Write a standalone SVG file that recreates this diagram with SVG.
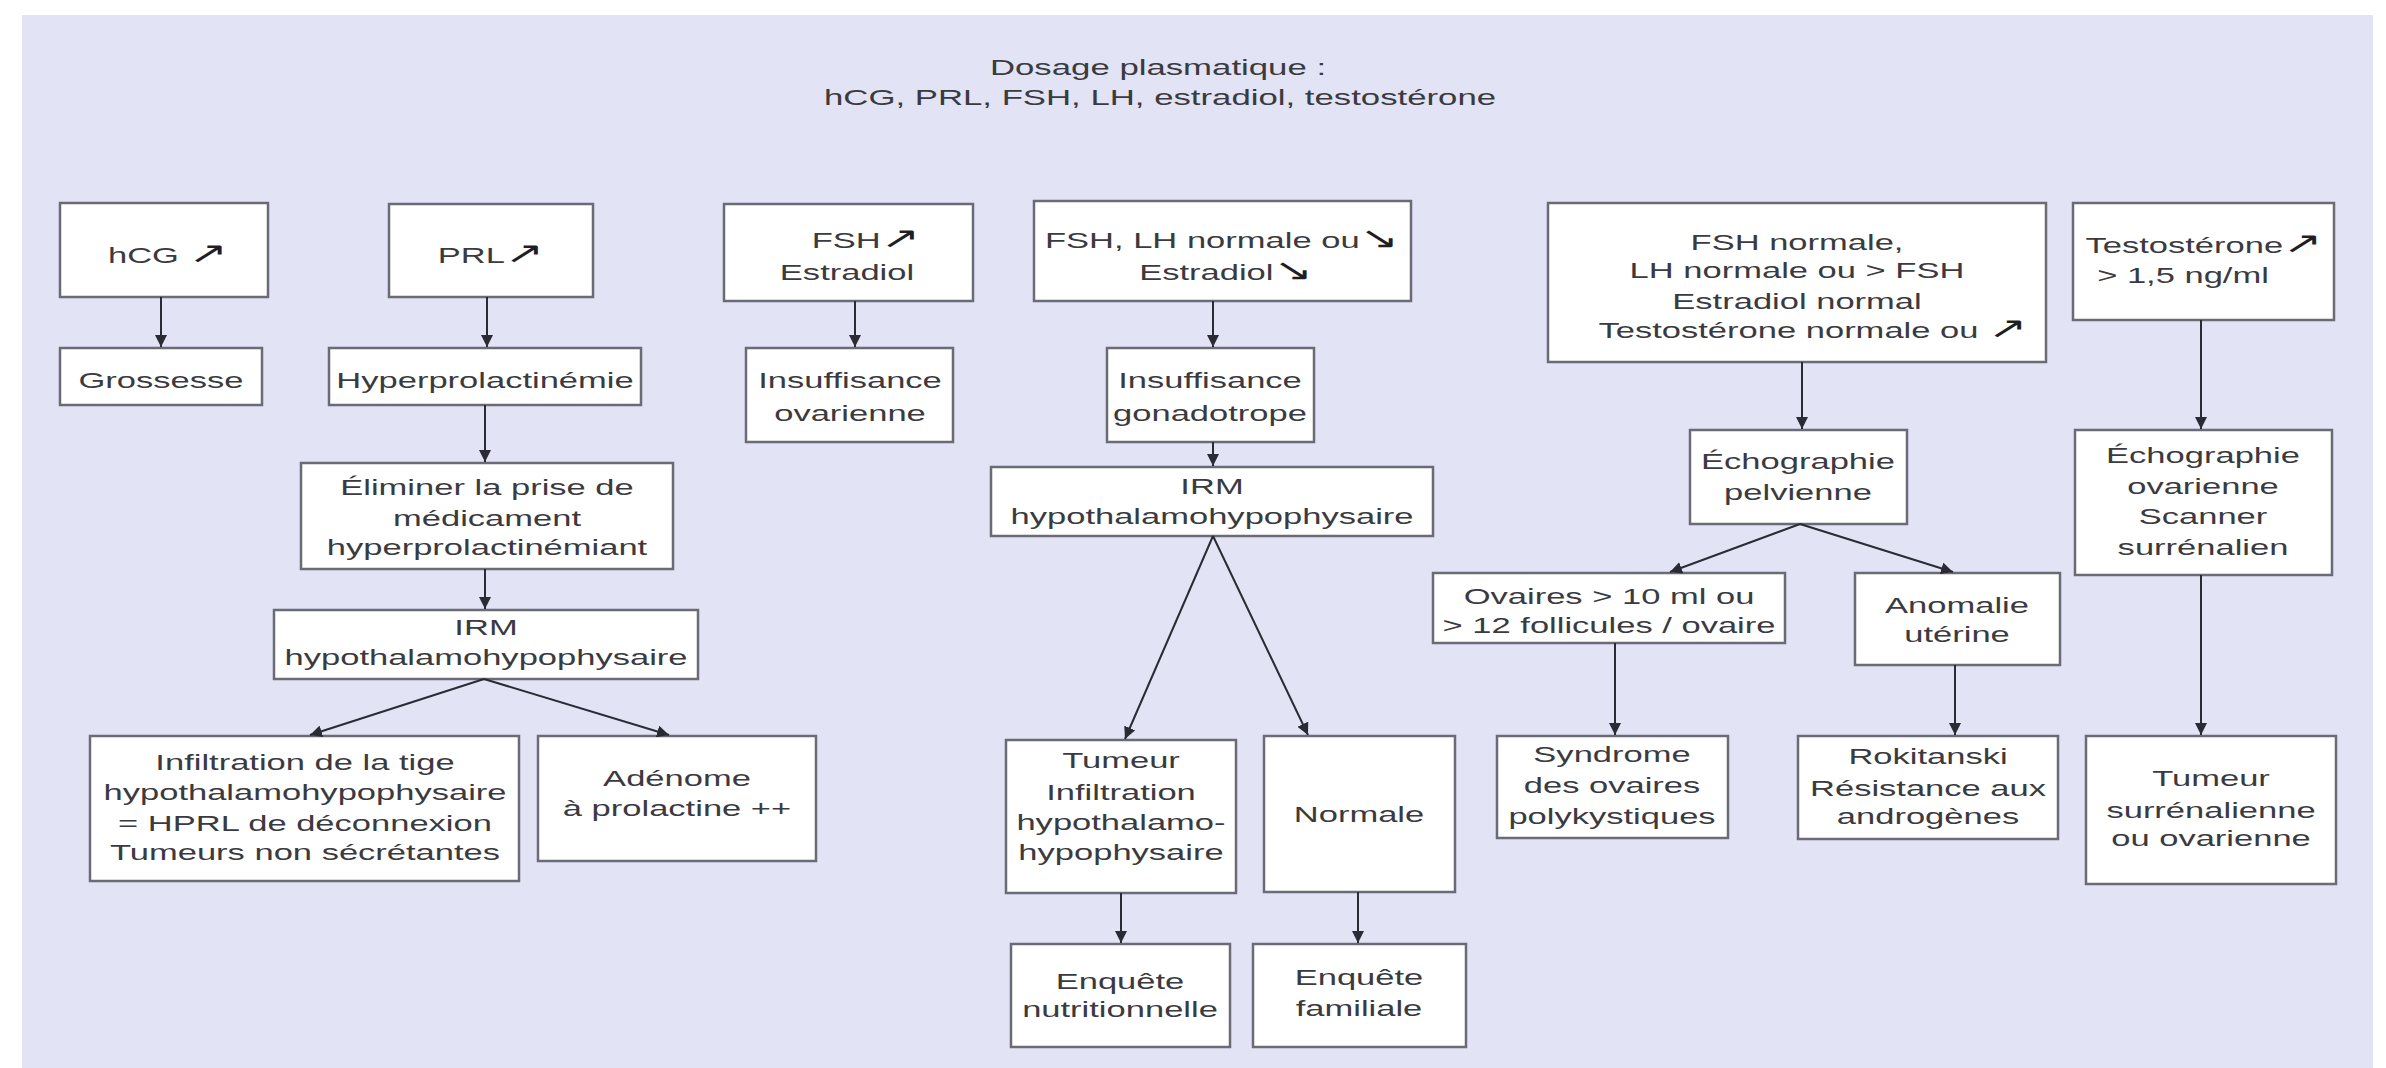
<svg xmlns="http://www.w3.org/2000/svg" width="2386" height="1068" viewBox="0 0 2386 1068">
<style>
  .panel { fill: #e2e3f4; }
  .box { fill: #ffffff; stroke: #6a6b74; stroke-width: 2.5; }
  .t { font-family: "Liberation Sans", Arial, sans-serif; font-size: 22px; fill: #3a3a3f; text-anchor: middle; }
  .ar { font-family: "DejaVu Sans", sans-serif; font-size: 30px; fill: #1e1e24; }
  .conn line { stroke: #2b2b35; stroke-width: 2; fill: none; marker-end: url(#head); }
</style>
<defs>
  <marker id="head" markerUnits="userSpaceOnUse" markerWidth="14" markerHeight="12" refX="12" refY="6" orient="auto">
    <path d="M0,0 L12,6 L0,12 z" fill="#2b2b35"/>
  </marker>
</defs>
<rect x="0" y="0" width="2386" height="1068" fill="#ffffff"/>
<rect class="panel" x="22" y="15" width="2351" height="1053"/>

<g id="title">
  <text class="t" transform="translate(1158,75) scale(1.58,1)">Dosage plasmatique :</text>
  <text class="t" transform="translate(1160,105) scale(1.58,1)">hCG, PRL, FSH, LH, estradiol, testostérone</text>
</g>

<g id="n-hcg">
  <rect class="box" x="60" y="203" width="208" height="94"/>
  <text class="t" transform="translate(168,263) scale(1.57,1)">hCG <tspan class="ar">↗</tspan></text>
</g>
<g id="n-grossesse">
  <rect class="box" x="60" y="348" width="202" height="57"/>
  <text class="t" transform="translate(161,388) scale(1.57,1)">Grossesse</text>
</g>
<g id="n-prl">
  <rect class="box" x="389" y="204" width="204" height="93"/>
  <text class="t" transform="translate(491,263) scale(1.57,1)">PRL<tspan class="ar">↗</tspan></text>
</g>
<g id="n-hyperprl">
  <rect class="box" x="329" y="348" width="312" height="57"/>
  <text class="t" transform="translate(485,388) scale(1.57,1)">Hyperprolactinémie</text>
</g>
<g id="n-eliminer">
  <rect class="box" x="301" y="463" width="372" height="106"/>
  <text class="t" transform="translate(487,495) scale(1.57,1)">Éliminer la prise de</text>
  <text class="t" transform="translate(487,526) scale(1.57,1)">médicament</text>
  <text class="t" transform="translate(487,555) scale(1.57,1)">hyperprolactinémiant</text>
</g>
<g id="n-irm1">
  <rect class="box" x="274" y="610" width="424" height="69"/>
  <text class="t" transform="translate(486,635) scale(1.57,1)">IRM</text>
  <text class="t" transform="translate(486,665) scale(1.57,1)">hypothalamohypophysaire</text>
</g>
<g id="n-infiltration">
  <rect class="box" x="90" y="736" width="429" height="145"/>
  <text class="t" transform="translate(305,770) scale(1.57,1)">Infiltration de la tige</text>
  <text class="t" transform="translate(305,800) scale(1.57,1)">hypothalamohypophysaire</text>
  <text class="t" transform="translate(305,831) scale(1.57,1)">= HPRL de déconnexion</text>
  <text class="t" transform="translate(305,860) scale(1.57,1)">Tumeurs non sécrétantes</text>
</g>
<g id="n-adenome">
  <rect class="box" x="538" y="736" width="278" height="125"/>
  <text class="t" transform="translate(677,786) scale(1.57,1)">Adénome</text>
  <text class="t" transform="translate(677,816) scale(1.57,1)">à prolactine ++</text>
</g>

<g id="n-fsh">
  <rect class="box" x="724" y="204" width="249" height="97"/>
  <text class="t" transform="translate(866,248) scale(1.57,1)">FSH<tspan class="ar">↗</tspan></text>
  <text class="t" transform="translate(847,280) scale(1.57,1)">Estradiol</text>
</g>
<g id="n-insuf-ov">
  <rect class="box" x="746" y="348" width="207" height="94"/>
  <text class="t" transform="translate(850,388) scale(1.57,1)">Insuffisance</text>
  <text class="t" transform="translate(850,421) scale(1.57,1)">ovarienne</text>
</g>

<g id="n-fshlh">
  <rect class="box" x="1034" y="201" width="377" height="100"/>
  <text class="t" transform="translate(1222,248) scale(1.57,1)">FSH, LH normale ou<tspan class="ar">↘</tspan></text>
  <text class="t" transform="translate(1226,280) scale(1.57,1)">Estradiol<tspan class="ar">↘</tspan></text>
</g>
<g id="n-insuf-gon">
  <rect class="box" x="1107" y="348" width="207" height="94"/>
  <text class="t" transform="translate(1210,388) scale(1.57,1)">Insuffisance</text>
  <text class="t" transform="translate(1210,421) scale(1.57,1)">gonadotrope</text>
</g>
<g id="n-irm2">
  <rect class="box" x="991" y="467" width="442" height="69"/>
  <text class="t" transform="translate(1212,494) scale(1.57,1)">IRM</text>
  <text class="t" transform="translate(1212,524) scale(1.57,1)">hypothalamohypophysaire</text>
</g>
<g id="n-tumeur">
  <rect class="box" x="1006" y="740" width="230" height="153"/>
  <text class="t" transform="translate(1121,768) scale(1.57,1)">Tumeur</text>
  <text class="t" transform="translate(1121,800) scale(1.57,1)">Infiltration</text>
  <text class="t" transform="translate(1121,830) scale(1.57,1)">hypothalamo-</text>
  <text class="t" transform="translate(1121,860) scale(1.57,1)">hypophysaire</text>
</g>
<g id="n-normale">
  <rect class="box" x="1264" y="736" width="191" height="156"/>
  <text class="t" transform="translate(1359,822) scale(1.57,1)">Normale</text>
</g>
<g id="n-enq-nut">
  <rect class="box" x="1011" y="944" width="219" height="103"/>
  <text class="t" transform="translate(1120,989) scale(1.57,1)">Enquête</text>
  <text class="t" transform="translate(1120,1017) scale(1.57,1)">nutritionnelle</text>
</g>
<g id="n-enq-fam">
  <rect class="box" x="1253" y="944" width="213" height="103"/>
  <text class="t" transform="translate(1359,985) scale(1.57,1)">Enquête</text>
  <text class="t" transform="translate(1359,1016) scale(1.57,1)">familiale</text>
</g>

<g id="n-fshnorm">
  <rect class="box" x="1548" y="203" width="498" height="159"/>
  <text class="t" transform="translate(1797,250) scale(1.57,1)">FSH normale,</text>
  <text class="t" transform="translate(1797,278) scale(1.57,1)">LH normale ou &gt; FSH</text>
  <text class="t" transform="translate(1797,309) scale(1.57,1)">Estradiol normal</text>
  <text class="t" transform="translate(1813,338) scale(1.57,1)">Testostérone normale ou <tspan class="ar">↗</tspan></text>
</g>
<g id="n-echo-pelv">
  <rect class="box" x="1690" y="430" width="217" height="94"/>
  <text class="t" transform="translate(1798,469) scale(1.57,1)">Échographie</text>
  <text class="t" transform="translate(1798,500) scale(1.57,1)">pelvienne</text>
</g>
<g id="n-ovaires">
  <rect class="box" x="1433" y="573" width="352" height="70"/>
  <text class="t" transform="translate(1609,604) scale(1.57,1)">Ovaires &gt; 10 ml ou</text>
  <text class="t" transform="translate(1609,633) scale(1.57,1)">&gt; 12 follicules / ovaire</text>
</g>
<g id="n-anomalie">
  <rect class="box" x="1855" y="573" width="205" height="92"/>
  <text class="t" transform="translate(1957,613) scale(1.57,1)">Anomalie</text>
  <text class="t" transform="translate(1957,642) scale(1.57,1)">utérine</text>
</g>
<g id="n-sopk">
  <rect class="box" x="1497" y="736" width="231" height="102"/>
  <text class="t" transform="translate(1612,762) scale(1.57,1)">Syndrome</text>
  <text class="t" transform="translate(1612,793) scale(1.57,1)">des ovaires</text>
  <text class="t" transform="translate(1612,824) scale(1.57,1)">polykystiques</text>
</g>
<g id="n-rokitanski">
  <rect class="box" x="1798" y="736" width="260" height="103"/>
  <text class="t" transform="translate(1928,764) scale(1.57,1)">Rokitanski</text>
  <text class="t" transform="translate(1928,796) scale(1.57,1)">Résistance aux</text>
  <text class="t" transform="translate(1928,824) scale(1.57,1)">androgènes</text>
</g>

<g id="n-testo">
  <rect class="box" x="2073" y="203" width="261" height="117"/>
  <text class="t" transform="translate(2204,253) scale(1.57,1)">Testostérone<tspan class="ar">↗</tspan></text>
  <text class="t" transform="translate(2183,283) scale(1.57,1)">&gt; 1,5 ng/ml</text>
</g>
<g id="n-echo-ov">
  <rect class="box" x="2075" y="430" width="257" height="145"/>
  <text class="t" transform="translate(2203,463) scale(1.57,1)">Échographie</text>
  <text class="t" transform="translate(2203,494) scale(1.57,1)">ovarienne</text>
  <text class="t" transform="translate(2203,524) scale(1.57,1)">Scanner</text>
  <text class="t" transform="translate(2203,555) scale(1.57,1)">surrénalien</text>
</g>
<g id="n-tumeur-surr">
  <rect class="box" x="2086" y="736" width="250" height="148"/>
  <text class="t" transform="translate(2211,786) scale(1.57,1)">Tumeur</text>
  <text class="t" transform="translate(2211,818) scale(1.57,1)">surrénalienne</text>
  <text class="t" transform="translate(2211,846) scale(1.57,1)">ou ovarienne</text>
</g>

<g id="connectors" class="conn">
  <line x1="161" y1="297" x2="161" y2="347"/>
  <line x1="487" y1="297" x2="487" y2="347"/>
  <line x1="485" y1="405" x2="485" y2="462"/>
  <line x1="485" y1="569" x2="485" y2="609"/>
  <line x1="484" y1="679" x2="310" y2="735"/>
  <line x1="484" y1="679" x2="669" y2="735"/>
  <line x1="855" y1="301" x2="855" y2="347"/>
  <line x1="1213" y1="301" x2="1213" y2="347"/>
  <line x1="1213" y1="442" x2="1213" y2="466"/>
  <line x1="1213" y1="536" x2="1125" y2="739"/>
  <line x1="1213" y1="536" x2="1308" y2="735"/>
  <line x1="1121" y1="893" x2="1121" y2="943"/>
  <line x1="1358" y1="892" x2="1358" y2="943"/>
  <line x1="1802" y1="362" x2="1802" y2="429"/>
  <line x1="1800" y1="524" x2="1670" y2="572"/>
  <line x1="1800" y1="524" x2="1953" y2="572"/>
  <line x1="1615" y1="643" x2="1615" y2="735"/>
  <line x1="1955" y1="665" x2="1955" y2="735"/>
  <line x1="2201" y1="320" x2="2201" y2="429"/>
  <line x1="2201" y1="575" x2="2201" y2="735"/>
</g>
</svg>
